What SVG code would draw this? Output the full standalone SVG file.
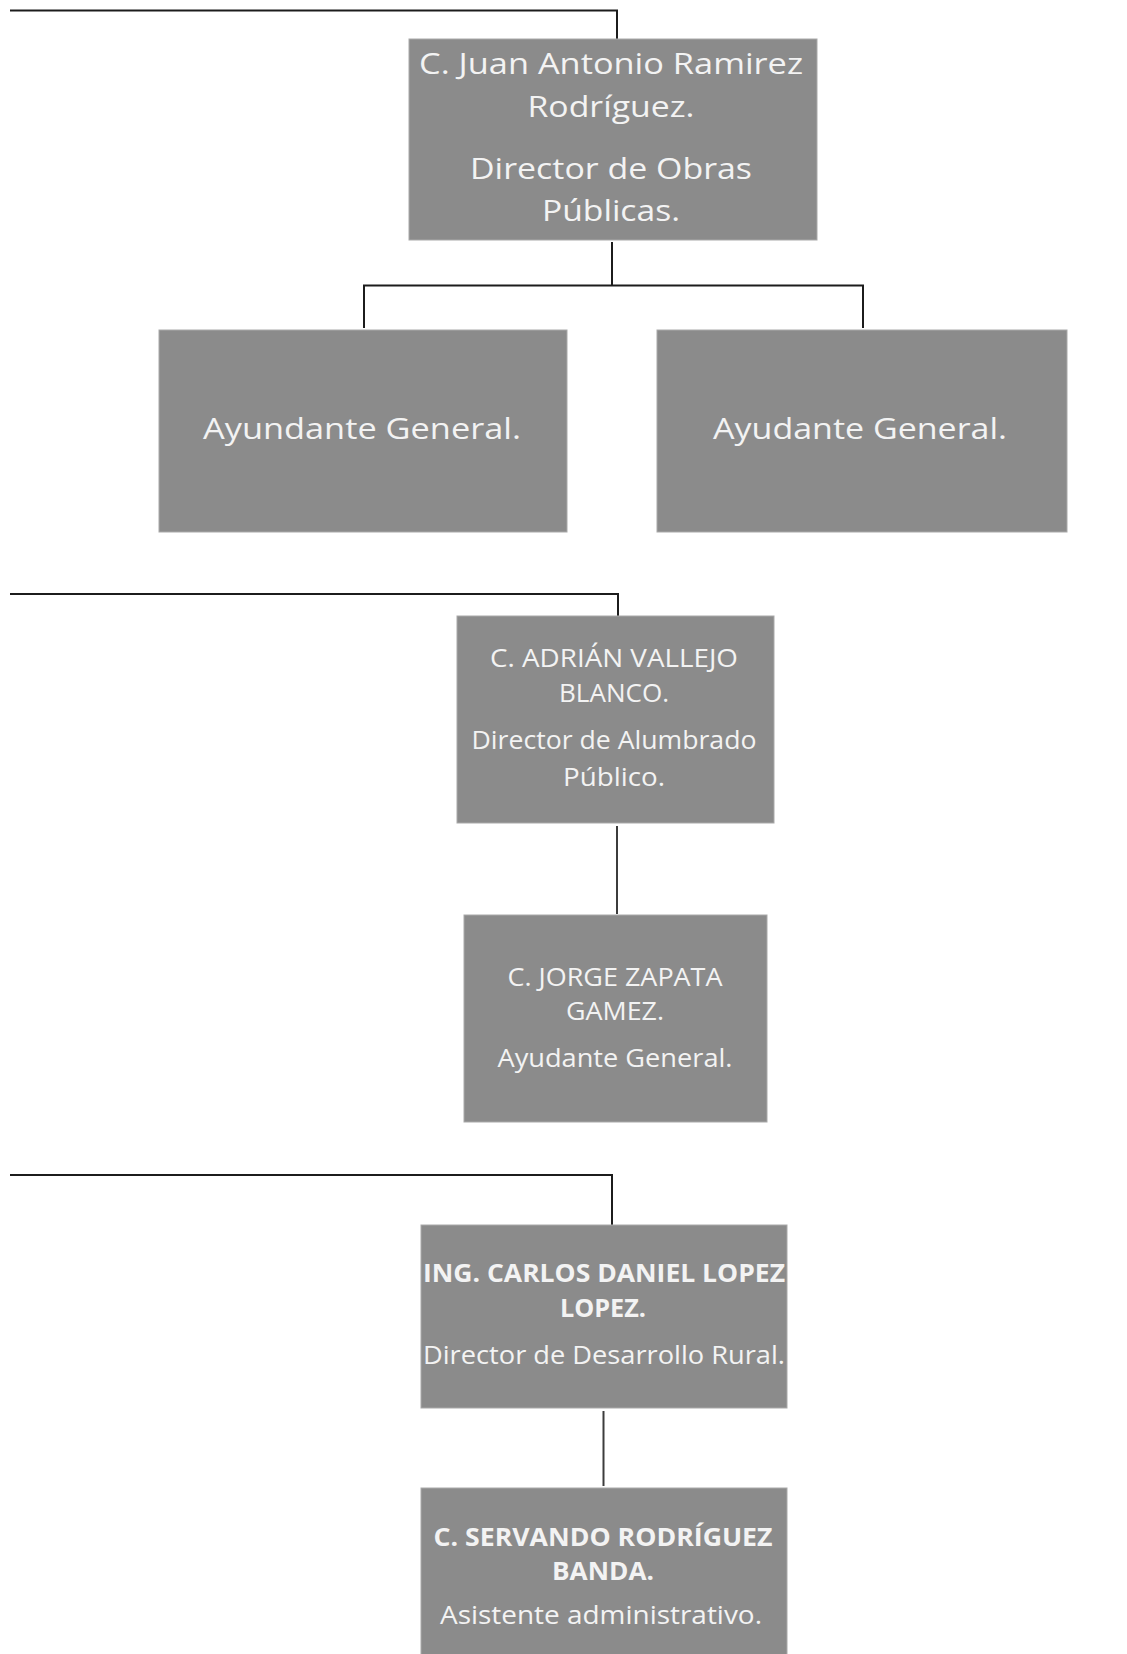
<svg xmlns="http://www.w3.org/2000/svg" width="1127" height="1654" viewBox="0 0 1127 1654">
<style>
.box{fill:#8b8b8b;stroke:#a9a9a9;stroke-width:1}
.t{font-family:"Open Sans","Noto Sans","Liberation Sans",sans-serif;fill:#f3f3f3;text-anchor:middle}
.lg{font-size:29px}
.md{font-size:25px}
.b{font-weight:bold}
.ln{fill:none;stroke:#1c1c1c;stroke-width:2}
.ln2{fill:none;stroke:#3c3c3c;stroke-width:2}
</style>
<rect width="1127" height="1654" fill="#ffffff"/>
<g id="connectors">
<path class="ln" d="M10 10.5 H617 V39"/>
<path class="ln" d="M612 242 V285.5 M364 328 V285.5 H863 V328"/>
<path class="ln" d="M10 594 H618 V616"/>
<path class="ln2" d="M617 826 V914"/>
<path class="ln" d="M10 1175 H612 V1225"/>
<path class="ln2" d="M603.5 1411 V1486"/>
</g>
<g id="n-juan">
<rect class="box" x="409" y="39" width="408" height="201"/>
<text class="t lg" x="611" y="74" textLength="384" lengthAdjust="spacingAndGlyphs">C. Juan Antonio Ramirez</text>
<text class="t lg" x="611" y="117" textLength="167" lengthAdjust="spacingAndGlyphs">Rodríguez.</text>
<text class="t lg" x="611" y="179" textLength="282" lengthAdjust="spacingAndGlyphs">Director de Obras</text>
<text class="t lg" x="611" y="221" textLength="138" lengthAdjust="spacingAndGlyphs">Públicas.</text>
</g>
<g id="n-ayundante">
<rect class="box" x="159" y="330" width="408" height="202"/>
<text class="t lg" x="362" y="439" textLength="318" lengthAdjust="spacingAndGlyphs">Ayundante General.</text>
</g>
<g id="n-ayudante">
<rect class="box" x="657" y="330" width="410" height="202"/>
<text class="t lg" x="860" y="439" textLength="294" lengthAdjust="spacingAndGlyphs">Ayudante General.</text>
</g>
<g id="n-adrian">
<rect class="box" x="457" y="616" width="317" height="207"/>
<text class="t md" x="614" y="667" textLength="248" lengthAdjust="spacingAndGlyphs">C. ADRIÁN VALLEJO</text>
<text class="t md" x="614" y="702" textLength="110" lengthAdjust="spacingAndGlyphs">BLANCO.</text>
<text class="t md" x="614" y="749" textLength="285" lengthAdjust="spacingAndGlyphs">Director de Alumbrado</text>
<text class="t md" x="614" y="786" textLength="102" lengthAdjust="spacingAndGlyphs">Público.</text>
</g>
<g id="n-jorge">
<rect class="box" x="464" y="915" width="303" height="207"/>
<text class="t md" x="615" y="986" textLength="215" lengthAdjust="spacingAndGlyphs">C. JORGE ZAPATA</text>
<text class="t md" x="615" y="1020" textLength="98" lengthAdjust="spacingAndGlyphs">GAMEZ.</text>
<text class="t md" x="615" y="1067" textLength="235" lengthAdjust="spacingAndGlyphs">Ayudante General.</text>
</g>
<g id="n-carlos">
<rect class="box" x="421" y="1225" width="366" height="183"/>
<text class="t md b" x="604" y="1282" textLength="362" lengthAdjust="spacingAndGlyphs">ING. CARLOS DANIEL LOPEZ</text>
<text class="t md b" x="603" y="1317" textLength="86" lengthAdjust="spacingAndGlyphs">LOPEZ.</text>
<text class="t md" x="604" y="1364" textLength="362" lengthAdjust="spacingAndGlyphs">Director de Desarrollo Rural.</text>
</g>
<g id="n-servando">
<rect class="box" x="421" y="1488" width="366" height="180"/>
<text class="t md b" x="603" y="1546" textLength="339" lengthAdjust="spacingAndGlyphs">C. SERVANDO RODRÍGUEZ</text>
<text class="t md b" x="603" y="1580" textLength="102" lengthAdjust="spacingAndGlyphs">BANDA.</text>
<text class="t md" x="601" y="1624" textLength="322" lengthAdjust="spacingAndGlyphs">Asistente administrativo.</text>
</g>
</svg>
